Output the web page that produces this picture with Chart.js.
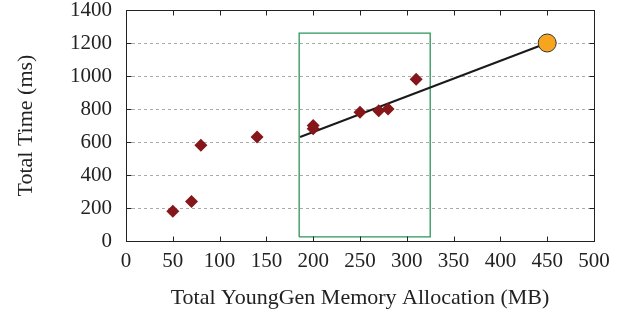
<!DOCTYPE html>
<html>
<head>
<meta charset="utf-8">
<script src="https://cdn.jsdelivr.net/npm/chart.js@4"></script>
<style>
html,body{margin:0;padding:0;background:#fff;}
#wrap{width:631px;height:315px;}
</style>
</head>
<body>
<div id="wrap"><canvas id="c" width="631" height="315"></canvas></div>
<script>
// Data
const memMB  = [50, 70, 80, 140, 200, 200, 250, 270, 280, 310];
const timeMs = [180, 240, 580, 630, 700, 680, 780, 790, 800, 980];
const fitX   = [186, 450];
const fitY   = [630, 1200];
const predX  = [450];
const predY  = [1200];
const boxX   = [185, 325, 325, 185, 185];
const boxY   = [25, 25, 1260, 1260, 25];
const xTicks = [0, 50, 100, 150, 200, 250, 300, 350, 400, 450, 500];
const yTicks = [0, 200, 400, 600, 800, 1000, 1200, 1400];

const pts = (xs, ys) => xs.map((x, i) => ({x: x, y: ys[i]}));
const FONT = 'Liberation Serif, Times New Roman, serif';
const FS = 21;
const TFS = 22;

const framePlugin = {
  id: 'frame',
  beforeDatasetsDraw(chart) {
    const {ctx, chartArea: a, scales: {x, y}} = chart;
    ctx.save();
    ctx.strokeStyle = '#ababab';
    ctx.lineWidth = 1;
    ctx.setLineDash([3, 3]);
    yTicks.forEach(v => {
      if (v === 0 || v === 1400) return;
      const py = Math.round(y.getPixelForValue(v)) + 0.5;
      ctx.beginPath(); ctx.moveTo(a.left, py); ctx.lineTo(a.right, py); ctx.stroke();
    });
    ctx.restore();
  },
  afterDatasetsDraw(chart) {
    const {ctx, chartArea: a, scales: {x, y}} = chart;
    ctx.save();
    ctx.strokeStyle = '#222';
    ctx.lineWidth = 1;
    const L = Math.round(a.left) + 0.5, R = Math.round(a.right) + 0.5;
    const T = Math.round(a.top) + 0.5, B = Math.round(a.bottom) + 0.5;
    ctx.strokeRect(L, T, R - L, B - T);
    const tl = 5;
    ctx.beginPath();
    xTicks.forEach(v => {
      const px = Math.round(x.getPixelForValue(v)) + 0.5;
      ctx.moveTo(px, B); ctx.lineTo(px, B - tl);
      ctx.moveTo(px, T); ctx.lineTo(px, T + tl);
    });
    yTicks.forEach(v => {
      const py = Math.round(y.getPixelForValue(v)) + 0.5;
      ctx.moveTo(L, py); ctx.lineTo(L + tl, py);
      ctx.moveTo(R, py); ctx.lineTo(R - tl, py);
    });
    ctx.stroke();
    ctx.restore();
  }
};

new Chart(document.getElementById('c'), {
  type: 'scatter',
  data: {
    datasets: [
      {
        label: 'Predicted',
        data: pts(predX, predY),
        pointStyle: 'circle',
        pointRadius: 9,
        backgroundColor: '#f7a51e',
        borderColor: '#333',
        borderWidth: 1,
        showLine: false
      },
      {
        label: 'Measured',
        data: pts(memMB, timeMs),
        pointStyle: 'rectRot',
        pointRadius: 6.5,
        backgroundColor: '#851619',
        borderColor: '#851619',
        borderWidth: 0,
        showLine: false
      },
      {
        label: 'Fit',
        data: pts(fitX, fitY),
        showLine: true,
        pointRadius: 0,
        borderColor: '#1a1a1a',
        borderWidth: 2,
        fill: false
      },
      {
        label: 'Region',
        data: pts(boxX, boxY),
        showLine: true,
        pointRadius: 0,
        borderColor: '#2a9558',
        borderWidth: 1.3,
        fill: false,
        tension: 0
      }
    ]
  },
  options: {
    responsive: false,
    animation: false,
    devicePixelRatio: 1,
    layout: {padding: {top: 9, right: 37, left: 0, bottom: 0}},
    plugins: {legend: {display: false}, tooltip: {enabled: false}},
    scales: {
      x: {
        type: 'linear',
        min: 0, max: 500,
        afterBuildTicks(s) { s.ticks = xTicks.map(v => ({value: v})); },
        afterFit(s) { s.height = 74; s.paddingLeft = 0; s.paddingRight = 0; },
        grid: {display: false, drawTicks: false},
        border: {display: false},
        ticks: {color: '#222', font: {family: FONT, size: FS}, padding: 8, maxRotation: 0, autoSkip: false,
                callback: v => String(v)},
        title: {display: true, text: 'Total YoungGen Memory Allocation (MB)', color: '#222',
                font: {family: FONT, size: TFS}, padding: {top: 0, bottom: 4}}
      },
      y: {
        type: 'linear',
        min: 0, max: 1400,
        afterBuildTicks(s) { s.ticks = yTicks.map(v => ({value: v})); },
        afterFit(s) { s.width = 126; s.paddingTop = 0; s.paddingBottom = 0; },
        grid: {display: false, drawTicks: false},
        border: {display: false},
        ticks: {color: '#222', font: {family: FONT, size: FS}, padding: 14, autoSkip: false,
                callback: v => String(v)},
        title: {display: true, text: 'Total Time (ms)', color: '#222',
                font: {family: FONT, size: TFS}, padding: {top: 13, bottom: 0}}
      }
    }
  },
  plugins: [framePlugin]
});
</script>
</body>
</html>
